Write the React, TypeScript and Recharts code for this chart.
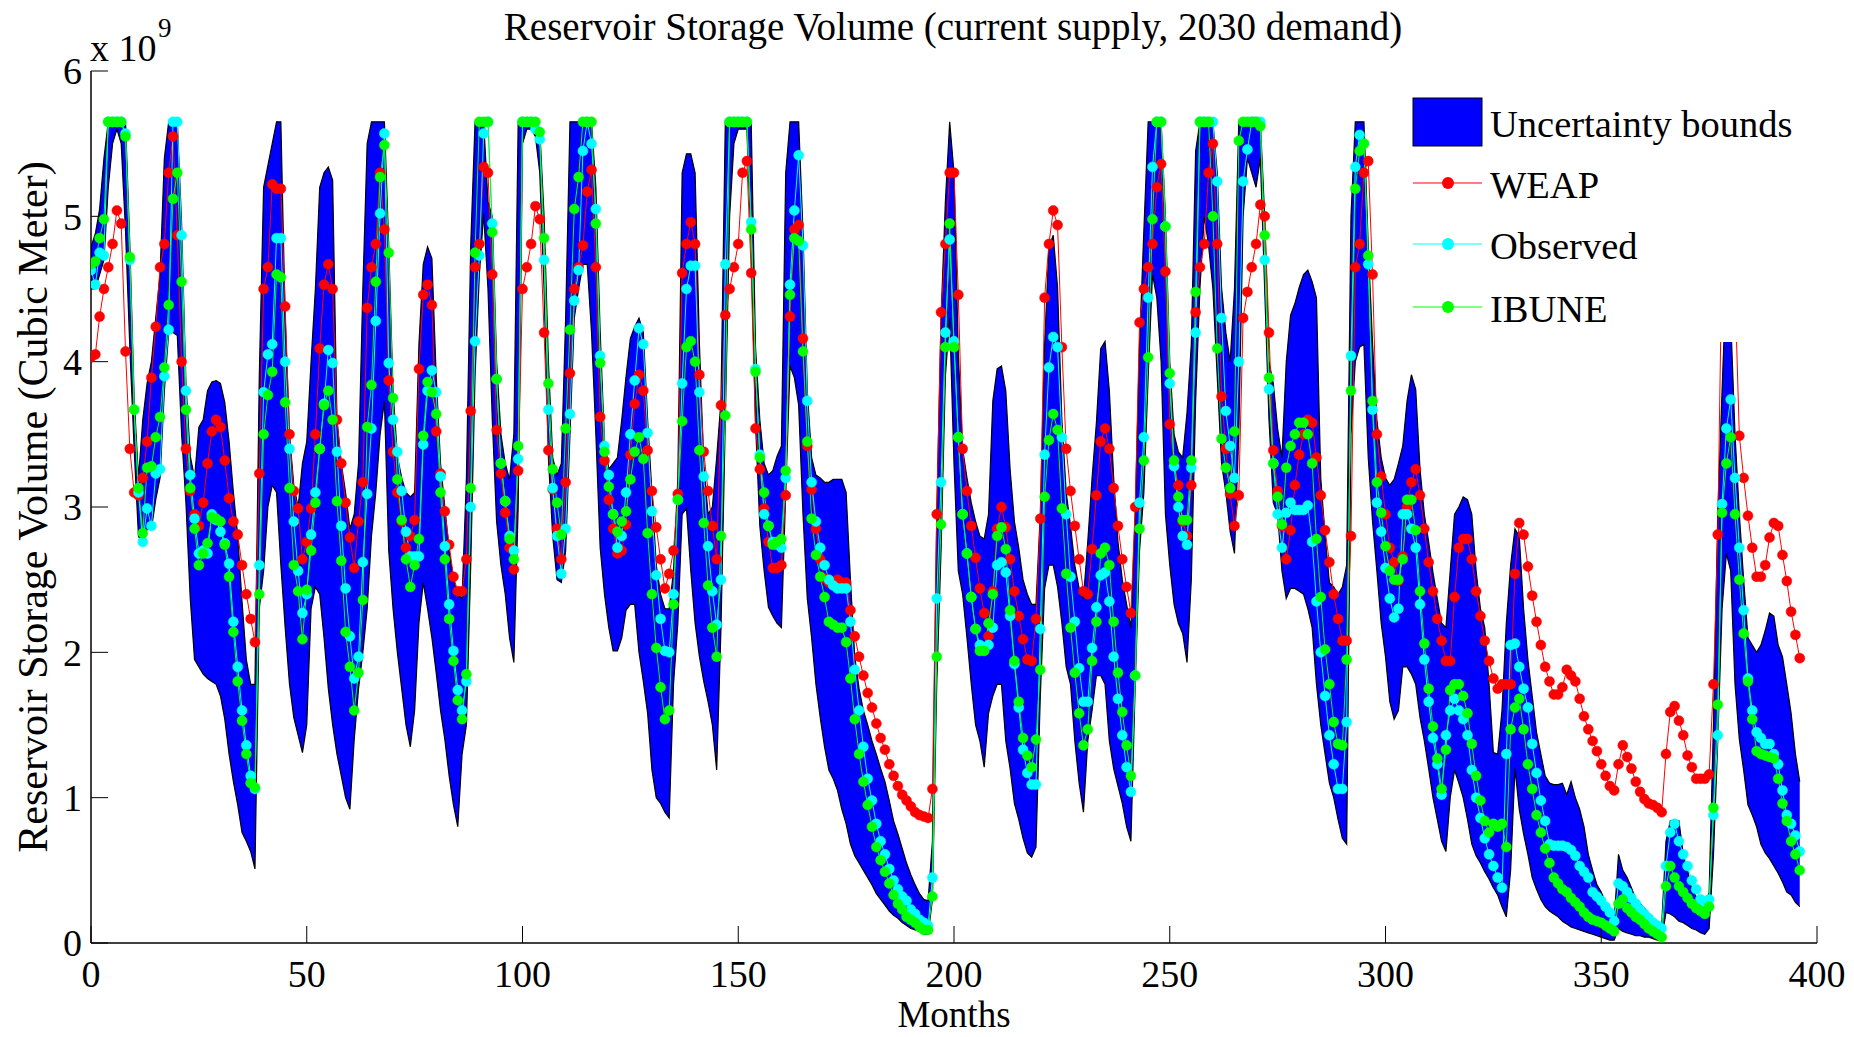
import { ComposedChart, Area, Line, XAxis, YAxis, Legend, Label } from 'recharts'

document.body.style.margin = '0'

const FONT = "'Liberation Serif', 'Times New Roman', serif"

// storage volumes in units of 1e9 m3, one value per month (0..396)
const upperBound = [
  4.79, 4.88, 5.05, 5.4, 5.65, 5.65, 5.65, 5.65, 5.65, 4.8,
  3.75, 3.2, 3.6, 3.85, 4.0, 4.3, 4.6, 5.4, 5.65, 5.65,
  5.65, 4.95, 3.85, 3.35, 3.2, 3.55, 3.6, 3.8, 3.86, 3.87,
  3.85, 3.72, 3.45, 3.1, 2.8, 2.35, 1.95, 1.78, 1.78, 3.9,
  5.2, 5.35, 5.5, 5.65, 5.65, 4.3, 3.5, 3.15, 3.0, 3.3,
  3.45, 4.0, 4.5, 5.2, 5.3, 5.34, 5.25, 3.6, 3.3, 3.1,
  2.85, 2.95, 3.3, 4.5, 5.5, 5.65, 5.65, 5.65, 5.65, 4.8,
  3.8, 3.35, 3.2, 3.1, 3.07, 3.1, 4.12, 4.67, 4.79, 4.71,
  3.9, 3.3, 3.0, 2.7, 2.5, 2.4, 2.37, 3.2, 4.8, 5.65,
  5.65, 5.65, 5.1, 5.0, 4.0, 3.5, 3.3, 3.19, 3.5, 5.65,
  5.65, 5.65, 5.65, 5.65, 5.6, 5.0, 4.0, 3.34, 3.22, 3.3,
  4.3, 5.65, 5.65, 5.65, 5.65, 5.65, 5.65, 5.2, 4.2, 3.45,
  3.26, 3.3, 3.34, 3.6, 3.9, 4.16, 4.24, 4.3, 4.2, 3.6,
  3.1, 2.6, 2.4, 2.3, 2.3, 2.56, 3.2, 5.3, 5.43, 5.43,
  5.3, 4.12, 3.3, 2.95, 3.0, 3.34, 3.73, 5.65, 5.65, 5.65,
  5.65, 5.65, 5.65, 5.65, 4.1, 3.6, 3.3, 3.22, 3.25, 3.35,
  3.42, 5.3, 5.65, 5.65, 5.65, 4.9, 3.8, 3.34, 3.22, 3.2,
  3.17, 3.17, 3.19, 3.19, 3.19, 3.1, 2.5, 1.97, 1.75, 1.6,
  1.5, 1.39, 1.3, 1.2, 1.11, 0.98, 0.84, 0.75, 0.65, 0.55,
  0.47, 0.4, 0.34, 0.3, 0.29, 0.7, 2.95, 4.3, 5.1, 5.65,
  5.3, 4.05, 3.4, 3.2, 3.03, 2.9, 2.8, 2.78, 2.95, 3.73,
  3.95, 3.97, 3.8, 3.26, 2.9, 2.72, 2.5, 2.4, 2.33, 2.33,
  2.95, 4.12, 4.79, 4.87, 4.51, 3.6, 3.1, 2.87, 2.6, 2.44,
  2.37, 2.76, 3.2, 3.58, 4.09, 4.14, 3.8, 3.2, 2.76, 2.5,
  2.33, 2.17, 2.95, 4.12, 4.9, 5.65, 5.65, 5.65, 5.65, 5.0,
  4.0, 3.5, 3.38, 3.34, 3.65, 4.12, 5.45, 5.65, 5.65, 5.65,
  5.65, 5.3, 4.51, 4.2, 4.0, 4.5, 5.65, 5.65, 5.65, 5.65,
  5.65, 5.65, 5.0, 4.0, 3.85, 3.54, 3.34, 4.0, 4.32, 4.4,
  4.51, 4.6, 4.63, 4.55, 4.44, 3.2, 2.8, 2.48, 2.45, 2.4,
  2.45, 2.6, 5.0, 5.65, 5.65, 5.65, 4.8, 4.12, 3.6, 3.34,
  3.2, 3.15, 3.19, 3.3, 3.42, 3.73, 3.91, 3.81, 3.26, 2.95,
  2.76, 2.55, 2.37, 2.2, 2.17, 2.56, 2.95, 3.0, 3.07, 3.05,
  2.95, 2.56, 2.3, 2.17, 1.78, 1.31, 1.3, 1.6, 2.2, 2.6,
  2.85, 2.8, 2.3, 1.95, 1.7, 1.45, 1.3, 1.15, 1.1, 1.09,
  1.09, 1.1, 1.02, 1.11, 1.0, 0.92, 0.8, 0.61, 0.5, 0.4,
  0.35, 0.28, 0.21, 0.16, 0.61, 0.5, 0.45, 0.38, 0.3, 0.27,
  0.24, 0.2, 0.17, 0.14, 0.12, 0.7, 0.84, 0.84, 0.84, 0.61,
  0.5, 0.37, 0.32, 0.28, 0.25, 0.35, 1.5, 2.95, 3.8, 4.6,
  4.3, 3.5, 2.95, 2.5, 2.1, 2.05, 2.0, 2.05, 2.15, 2.27,
  2.25, 2.05, 1.97, 1.78, 1.58, 1.3, 1.11,
]

const lowerBound = [
  4.5, 4.5, 4.6, 4.7, 5.2, 5.5, 5.6, 5.5, 4.9, 4.1,
  3.4, 2.8, 2.74, 2.85, 2.85, 3.05, 3.2, 3.8, 4.2, 4.2,
  4.18, 3.5, 3.03, 2.37, 1.95, 1.9, 1.85, 1.82, 1.8, 1.78,
  1.7, 1.54, 1.3, 1.11, 0.95, 0.76, 0.7, 0.63, 0.51, 2.3,
  2.56, 3.0, 3.15, 3.1, 2.6, 2.17, 1.78, 1.55, 1.43, 1.31,
  1.5, 2.3, 2.45, 2.4, 2.1, 1.75, 1.5, 1.3, 1.15, 1.0,
  0.92, 1.4, 1.75, 2.0, 2.3, 2.8, 3.1, 3.5, 3.73, 2.7,
  2.3, 2.0, 1.75, 1.5, 1.35, 1.6, 2.2, 2.48, 2.3, 2.1,
  1.86, 1.6, 1.4, 1.15, 0.95, 0.8, 1.3, 1.5, 2.6, 3.9,
  4.6, 5.02, 4.5, 3.6, 2.9, 2.6, 2.4, 2.1, 1.93, 3.0,
  5.5, 5.6, 5.6, 5.55, 5.3, 4.5, 3.34, 2.8, 2.5, 2.48,
  2.7, 3.5, 4.3, 4.5, 4.67, 4.67, 4.2, 3.5, 2.72, 2.4,
  2.17, 2.01, 2.01, 2.1, 2.29, 2.33, 2.33, 2.0, 1.8, 1.58,
  1.19, 1.0, 0.96, 0.9, 0.86, 1.78, 2.2, 2.95, 2.99, 2.56,
  2.2, 1.97, 1.8, 1.66, 1.5, 1.19, 2.17, 3.6, 5.0, 5.5,
  5.6, 5.6, 5.6, 4.8, 3.58, 2.87, 2.56, 2.31, 2.25, 2.2,
  2.17, 3.1, 3.97, 3.89, 3.7, 2.95, 2.37, 2.1, 1.78, 1.55,
  1.35, 1.19, 1.13, 1.05, 0.92, 0.82, 0.68, 0.6, 0.55, 0.5,
  0.45, 0.4, 0.34, 0.3, 0.26, 0.22, 0.19, 0.17, 0.14, 0.12,
  0.1, 0.09, 0.08, 0.06, 0.06, 0.3, 1.78, 2.7, 3.9, 4.3,
  3.3, 2.56, 2.4, 2.1, 1.78, 1.5, 1.39, 1.21, 1.58, 1.7,
  1.78, 1.78, 1.39, 1.2, 0.96, 0.85, 0.72, 0.62, 0.59, 0.66,
  1.7, 2.44, 2.6, 2.6, 2.45, 2.2, 1.9, 1.78, 1.39, 1.1,
  0.9, 1.39, 1.6, 1.84, 1.84, 1.78, 1.39, 1.2, 1.08, 0.96,
  0.8, 0.7, 1.78, 2.7, 3.1, 3.9, 4.6, 4.44, 4.0, 2.95,
  2.6, 2.33, 2.2, 2.13, 1.93, 2.5, 3.73, 4.51, 5.0, 4.8,
  4.5, 3.9, 3.3, 3.1, 2.83, 2.68, 3.5, 5.0, 5.4, 5.3,
  5.2, 5.4, 4.5, 3.6, 3.03, 2.95, 2.56, 2.37, 2.44, 2.44,
  2.42, 2.4, 2.3, 2.17, 1.78, 1.5, 1.3, 1.1, 1.0, 0.85,
  0.72, 0.68, 3.5, 4.0, 4.1, 4.12, 3.34, 2.9, 2.56, 2.2,
  1.97, 1.66, 1.54, 1.6, 1.9, 1.9, 1.85, 1.78, 1.55, 1.39,
  1.2, 1.0, 0.85, 0.7, 0.63, 1.0, 1.19, 1.1, 1.0, 0.85,
  0.68, 0.6, 0.55, 0.49, 0.44, 0.38, 0.33, 0.25, 0.18, 0.5,
  1.2, 0.92, 0.75, 0.61, 0.45, 0.37, 0.3, 0.25, 0.22, 0.2,
  0.18, 0.15, 0.13, 0.11, 0.1, 0.09, 0.08, 0.07, 0.06, 0.05,
  0.04, 0.03, 0.02, 0.02, 0.1, 0.08, 0.07, 0.06, 0.05, 0.05,
  0.04, 0.04, 0.03, 0.02, 0.02, 0.21, 0.2, 0.18, 0.15, 0.14,
  0.12, 0.1, 0.09, 0.07, 0.06, 0.1, 0.6, 1.39, 2.3, 2.68,
  2.56, 1.78, 1.4, 1.19, 0.95, 0.88, 0.8, 0.68, 0.62, 0.58,
  0.53, 0.48, 0.42, 0.35, 0.33, 0.28, 0.25,
]

const weap = [
  4.03, 4.05, 4.31, 4.5, 4.65, 4.81, 5.04, 4.95, 4.07, 3.4,
  3.1, 3.08, 3.2, 3.45, 3.89, 4.24, 4.65, 4.81, 5.3, 5.55,
  4.87, 4.0, 3.4, 3.11, 2.95, 2.87, 3.03, 3.3, 3.52, 3.6,
  3.55, 3.32, 3.06, 2.9, 2.81, 2.6, 2.4, 2.23, 2.07, 3.23,
  4.5, 4.65, 5.22, 5.19, 5.19, 4.38, 3.5, 3.11, 2.99, 2.64,
  2.76, 2.99, 3.5, 4.09, 4.53, 4.67, 4.5, 3.6, 3.3, 3.03,
  2.79, 2.58, 2.9, 3.17, 4.37, 4.65, 4.81, 5.3, 4.91, 3.87,
  3.38, 3.1, 2.9, 2.72, 2.8, 2.91, 3.95, 4.46, 4.53, 4.39,
  3.52, 3.23, 2.97, 2.74, 2.52, 2.42, 2.42, 2.64, 3.66, 4.65,
  4.81, 5.34, 5.3, 4.6, 3.53, 3.23, 2.96, 2.72, 2.57, 3.25,
  4.5, 4.65, 4.81, 5.07, 4.98, 4.2, 3.39, 3.12, 2.85, 2.64,
  3.17, 3.92, 4.5, 4.65, 4.8, 5.17, 5.32, 4.65, 3.62, 3.32,
  3.05, 2.85, 2.68, 2.7, 2.88, 3.36, 3.71, 3.91, 3.8, 3.39,
  3.11, 2.86, 2.64, 2.44, 2.54, 2.7, 3.09, 4.61, 4.81, 4.96,
  4.81, 3.91, 3.38, 3.11, 2.87, 2.64, 3.7, 4.32, 4.5, 4.65,
  4.81, 5.3, 5.38, 4.61, 3.54, 3.26, 2.99, 2.76, 2.58, 2.58,
  2.6, 3.08, 4.31, 4.91, 4.94, 4.16, 3.42, 3.12, 2.85, 2.64,
  2.51, 2.48, 2.48, 2.5, 2.48, 2.48, 2.29, 2.11, 1.97, 1.84,
  1.72, 1.62, 1.51, 1.41, 1.33, 1.23, 1.15, 1.08, 1.02, 0.98,
  0.94, 0.9, 0.88, 0.87, 0.86, 1.06, 2.95, 4.34, 4.81, 5.3,
  5.3, 4.46, 3.4, 3.11, 2.87, 2.65, 2.44, 2.27, 2.11, 2.42,
  2.85, 3.0, 2.86, 2.64, 2.42, 2.25, 2.09, 1.95, 1.94, 2.23,
  2.92, 4.44, 4.81, 5.04, 4.94, 4.1, 3.4, 3.11, 2.87, 2.64,
  2.42, 2.4, 2.71, 3.08, 3.45, 3.54, 3.4, 3.13, 2.87, 2.64,
  2.45, 2.27, 3.0, 4.27, 4.5, 4.65, 4.81, 5.2, 5.36, 4.62,
  3.57, 3.3, 3.15, 2.9, 2.8, 3.15, 4.34, 4.65, 4.81, 5.3,
  5.5, 4.81, 3.76, 3.4, 3.09, 2.87, 3.08, 4.3, 4.48, 4.65,
  4.81, 5.08, 5.0, 4.2, 3.39, 3.11, 2.87, 2.64, 2.84, 3.15,
  3.36, 3.5, 3.6, 3.58, 3.34, 3.08, 2.84, 2.62, 2.4, 2.23,
  2.08, 2.08, 2.8, 4.65, 4.81, 5.3, 5.38, 4.6, 3.5, 3.21,
  2.95, 2.72, 2.62, 2.49, 2.66, 3.0, 3.17, 3.26, 3.08, 2.85,
  2.62, 2.42, 2.23, 2.08, 1.94, 1.94, 2.38, 2.72, 2.78, 2.78,
  2.64, 2.42, 2.25, 2.08, 1.94, 1.82, 1.75, 1.78, 1.78, 1.78,
  2.54, 2.89, 2.81, 2.59, 2.39, 2.21, 2.05, 1.9, 1.8, 1.71,
  1.71, 1.76, 1.88, 1.84, 1.8, 1.68, 1.56, 1.47, 1.39, 1.32,
  1.23, 1.15, 1.08, 1.05, 1.23, 1.36, 1.28, 1.2, 1.11, 1.04,
  0.99, 0.96, 0.95, 0.93, 0.9, 1.3, 1.59, 1.63, 1.53, 1.43,
  1.29, 1.21, 1.13, 1.13, 1.13, 1.16, 1.78, 2.81, 4.8, 5.6,
  5.3, 4.5, 3.49, 3.2, 2.94, 2.72, 2.52, 2.52, 2.6, 2.79,
  2.89, 2.87, 2.67, 2.49, 2.28, 2.12, 1.96,
]

const observed = [
  4.63, 4.53, 4.75, 4.73, 5.65, 5.65, 5.65, 5.65, 5.57, 4.7,
  3.67, 3.1, 2.76, 2.99, 2.87, 3.23, 3.26, 3.9, 4.22, 5.65,
  5.65, 4.87, 3.8, 3.22, 2.92, 2.68, 2.7, 2.68, 2.95, 2.91,
  2.83, 2.75, 2.61, 2.21, 1.9, 1.6, 1.36, 1.15, 1.06, 2.6,
  3.79, 4.05, 4.12, 4.85, 4.85, 4.0, 3.4, 2.9, 2.56, 2.27,
  2.4, 2.81, 3.1, 3.4, 3.71, 4.08, 3.99, 3.38, 2.87, 2.44,
  2.11, 1.82, 1.97, 2.62, 3.09, 3.54, 4.28, 5.02, 5.57, 3.99,
  3.6, 3.38, 3.11, 2.83, 2.66, 2.66, 2.66, 3.43, 3.8, 3.94,
  3.79, 3.21, 2.73, 2.33, 2.01, 1.74, 1.6, 1.8, 3.0, 4.14,
  4.73, 5.57, 5.65, 4.95, 3.88, 3.3, 3.04, 2.8, 2.7, 3.33,
  5.65, 5.65, 5.65, 5.6, 5.53, 4.7, 3.67, 3.13, 2.8, 2.54,
  2.85, 3.64, 4.42, 4.63, 5.45, 5.65, 5.5, 5.05, 4.04, 3.42,
  3.22, 2.95, 2.72, 2.8, 3.1, 3.5, 3.87, 4.23, 4.12, 3.51,
  2.97, 2.53, 2.23, 2.01, 2.0, 2.4, 3.05, 3.85, 4.5, 4.66,
  4.66, 3.79, 3.21, 2.73, 2.42, 2.19, 2.5, 4.67, 5.65, 5.65,
  5.65, 5.65, 5.65, 4.96, 3.95, 3.36, 2.95, 2.87, 2.76, 2.74,
  2.72, 3.2, 4.53, 5.04, 5.42, 4.8, 3.73, 3.17, 2.9, 2.72,
  2.6, 2.5, 2.46, 2.44, 2.44, 2.44, 2.21, 1.88, 1.6, 1.35,
  1.13, 0.98, 0.82, 0.7, 0.61, 0.51, 0.43, 0.37, 0.32, 0.29,
  0.23, 0.2, 0.16, 0.14, 0.12, 0.45, 2.37, 3.17, 4.2, 4.84,
  4.14, 3.48, 2.95, 2.68, 2.38, 2.16, 2.05, 2.03, 2.05, 2.17,
  2.6, 2.62, 2.55, 2.25, 1.92, 1.62, 1.33, 1.17, 1.09, 1.09,
  2.16, 3.36, 3.96, 4.17, 4.1, 3.48, 2.95, 2.52, 2.21, 1.89,
  1.66, 1.66, 2.03, 2.31, 2.53, 2.55, 2.35, 1.97, 1.68, 1.43,
  1.21, 1.04, 1.84, 3.03, 3.48, 4.44, 5.34, 5.65, 5.65, 4.93,
  3.85, 3.28, 3.0, 2.8, 2.74, 3.27, 4.2, 5.65, 5.65, 5.65,
  5.65, 5.24, 4.3, 3.66, 3.42, 3.2, 4.0, 5.24, 5.46, 5.65,
  5.65, 5.65, 4.7, 3.81, 3.3, 2.95, 2.72, 2.96, 3.03, 2.98,
  2.98, 2.98, 3.01, 2.76, 2.35, 2.0, 1.7, 1.43, 1.23, 1.06,
  1.06, 1.52, 4.04, 5.34, 5.56, 5.5, 4.67, 3.67, 3.03, 2.83,
  2.58, 2.37, 2.24, 2.3, 2.95, 2.95, 2.85, 2.72, 2.33, 1.95,
  1.66, 1.41, 1.23, 1.02, 1.43, 1.6, 1.68, 1.6, 1.54, 1.43,
  1.19, 1.0, 0.86, 0.72, 0.61, 0.53, 0.45, 0.38, 1.3, 2.05,
  2.06, 1.9, 1.75, 1.62, 1.37, 1.17, 0.98, 0.84, 0.68, 0.67,
  0.67, 0.67, 0.66, 0.64, 0.6, 0.53, 0.49, 0.45, 0.35, 0.32,
  0.29, 0.25, 0.21, 0.15, 0.41, 0.39, 0.35, 0.31, 0.27, 0.23,
  0.2, 0.17, 0.14, 0.12, 0.1, 0.53, 0.76, 0.82, 0.7, 0.61,
  0.53, 0.43, 0.37, 0.3, 0.28, 0.3, 0.88, 1.43, 3.02, 3.54,
  3.74, 3.2, 2.72, 2.29, 1.82, 1.6, 1.45, 1.41, 1.37, 1.37,
  1.3, 1.23, 1.05, 0.88, 0.82, 0.74, 0.63,
]

const ibune = [
  4.67, 4.69, 4.85, 4.98, 5.65, 5.65, 5.65, 5.65, 5.55, 4.72,
  3.67, 3.13, 2.82, 3.27, 3.28, 3.48, 3.62, 3.96, 4.39, 5.12,
  5.3, 4.55, 3.67, 3.13, 2.85, 2.6, 2.68, 2.75, 2.93, 2.92,
  2.9, 2.74, 2.52, 2.14, 1.8, 1.53, 1.3, 1.1, 1.07, 2.4,
  3.5, 3.77, 3.93, 4.6, 4.58, 3.72, 3.13, 2.6, 2.42, 2.09,
  2.43, 2.7, 3.03, 3.4, 3.7, 3.8, 3.6, 3.04, 2.63, 2.14,
  1.9, 1.6, 1.86, 2.36, 3.55, 3.84, 4.55, 5.27, 5.49, 4.75,
  3.75, 3.19, 2.91, 2.64, 2.45, 2.6, 2.78, 3.49, 3.86, 3.79,
  3.64, 3.1, 2.64, 2.23, 1.94, 1.67, 1.54, 1.85, 3.13, 4.75,
  5.65, 5.65, 5.65, 4.89, 3.88, 3.3, 3.04, 2.78, 2.64, 3.42,
  5.65, 5.65, 5.65, 5.65, 5.58, 4.85, 3.85, 3.26, 3.03, 2.81,
  3.54, 4.22, 5.05, 5.27, 5.65, 5.65, 5.65, 4.95, 3.99, 3.38,
  3.14, 2.95, 2.83, 2.9, 2.97, 3.19, 3.38, 3.48, 3.33, 2.82,
  2.4, 2.03, 1.76, 1.54, 1.6, 2.33, 3.05, 3.59, 4.1, 4.14,
  4.0, 3.39, 2.89, 2.46, 2.17, 1.97, 2.8, 3.63, 5.65, 5.65,
  5.65, 5.65, 5.65, 4.91, 3.93, 3.34, 3.1, 2.87, 2.74, 2.76,
  2.78, 3.25, 4.46, 4.85, 4.83, 4.07, 3.45, 2.92, 2.67, 2.52,
  2.38, 2.21, 2.19, 2.17, 2.17, 2.07, 1.82, 1.54, 1.3, 1.11,
  0.95, 0.8, 0.66, 0.57, 0.49, 0.41, 0.33, 0.27, 0.23, 0.18,
  0.16, 0.14, 0.11, 0.09, 0.09, 0.32, 1.97, 2.88, 4.1, 4.95,
  4.1, 3.48, 2.95, 2.68, 2.38, 2.16, 2.01, 2.01, 2.2, 2.4,
  2.8, 2.86, 2.71, 2.29, 1.94, 1.66, 1.41, 1.29, 1.21, 1.4,
  1.88, 3.07, 3.46, 3.64, 3.53, 2.99, 2.54, 2.17, 1.86, 1.58,
  1.36, 1.47, 1.94, 2.21, 2.68, 2.72, 2.6, 2.21, 1.86, 1.59,
  1.36, 1.15, 1.84, 2.85, 3.32, 4.03, 4.98, 5.65, 5.65, 4.93,
  3.92, 3.32, 3.07, 2.91, 2.91, 3.32, 4.48, 5.65, 5.65, 5.65,
  5.0, 4.09, 3.47, 3.27, 3.13, 3.52, 5.52, 5.65, 5.65, 5.65,
  5.65, 5.62, 4.87, 3.89, 3.3, 3.07, 2.88, 3.27, 3.42, 3.5,
  3.58, 3.58, 3.5, 3.3, 2.78, 2.38, 2.02, 1.78, 1.52, 1.37,
  1.36, 1.95, 3.8, 5.19, 5.45, 5.5, 4.73, 3.73, 3.17, 2.96,
  2.73, 2.56, 2.5, 2.5, 2.64, 3.05, 3.05, 2.84, 2.42, 2.06,
  1.75, 1.49, 1.27, 1.06, 1.33, 1.74, 1.78, 1.78, 1.7, 1.58,
  1.37, 1.15, 0.98, 0.84, 0.76, 0.82, 0.8, 0.82, 0.66, 1.47,
  1.62, 1.68, 1.47, 1.23, 1.06, 0.88, 0.76, 0.65, 0.55, 0.45,
  0.41, 0.37, 0.35, 0.31, 0.28, 0.25, 0.21, 0.18, 0.16, 0.15,
  0.14, 0.12, 0.1, 0.08, 0.27, 0.3, 0.24, 0.21, 0.18, 0.16,
  0.13, 0.1, 0.08, 0.06, 0.04, 0.39, 0.53, 0.45, 0.39, 0.35,
  0.31, 0.27, 0.24, 0.22, 0.2, 0.25, 0.93, 1.64, 2.96, 3.3,
  3.48, 2.95, 2.5, 2.13, 1.8, 1.54, 1.32, 1.3, 1.29, 1.28,
  1.27, 1.13, 0.96, 0.84, 0.7, 0.61, 0.5,
]

const xTicks = [0, 50, 100, 150, 200, 250, 300, 350, 400]
const yTicks = [0, 1, 2, 3, 4, 5, 6]

const data = observed.map((v, i) => ({
  month: i,
  band: [lowerBound[i], upperBound[i]],
  weap: weap[i],
  observed: v,
  ibune: ibune[i],
}))

const tickStyle = { fill: '#000', fontSize: 38, fontFamily: FONT }

const renderLegend = () => (
  <svg width={403} height={264} style={{ display: 'block', fontFamily: FONT }}>
    <rect x={18} y={20} width={69} height={48} fill="#0000ff" stroke="#000" strokeWidth={1} />
    <text x={95} y={59} fontSize={38.5} fill="#000">Uncertainty bounds</text>
    {[
      { name: 'WEAP', color: '#ff0000', y: 105 },
      { name: 'Observed', color: '#00ffff', y: 166 },
      { name: 'IBUNE', color: '#00ff00', y: 229 },
    ].map((item) => (
      <g key={item.name}>
        <line x1={18} x2={87} y1={item.y} y2={item.y} stroke={item.color} strokeWidth={1} />
        <circle cx={53} cy={item.y} r={6} fill={item.color} />
        <text x={95} y={item.y + 15} fontSize={38.5} fill="#000">{item.name}</text>
      </g>
    ))}
  </svg>
)

export default function App() {
  return (
    <div style={{ position: 'relative', width: 1854, height: 1037, overflow: 'hidden', background: '#fff' }}>
      <ComposedChart
        width={1854}
        height={1037}
        data={data}
        margin={{ top: 71, right: 37, bottom: 0, left: 0 }}
      >
        <XAxis
          dataKey="month"
          type="number"
          domain={[0, 400]}
          ticks={xTicks}
          interval={0}
          allowDataOverflow
          height={94}
          tickSize={-17}
          tickMargin={34}
          axisLine={{ stroke: '#000', strokeWidth: 1.5 }}
          tickLine={{ stroke: '#000' }}
          tick={tickStyle}
        >
          <Label value="Months" position="insideBottom" offset={10} style={{ fill: '#000', fontSize: 37, fontFamily: FONT }} />
        </XAxis>
        <XAxis
          xAxisId="top"
          orientation="top"
          dataKey="month"
          type="number"
          domain={[0, 400]}
          ticks={xTicks}
          interval={0}
          allowDataOverflow
          height={0}
          tickSize={-17}
          axisLine={{ stroke: '#000', strokeWidth: 1.5 }}
          tickLine={{ stroke: '#000' }}
          tick={false}
        />
        <YAxis
          type="number"
          domain={[0, 6]}
          ticks={yTicks}
          interval={0}
          allowDataOverflow
          width={91}
          tickSize={-17}
          tickMargin={26}
          axisLine={{ stroke: '#000', strokeWidth: 1.5 }}
          tickLine={{ stroke: '#000' }}
          tick={tickStyle}
          label={{
            value: 'Reservoir Storage Volume (Cubic Meter)',
            angle: -90,
            position: 'insideLeft',
            offset: 32,
            style: { textAnchor: 'middle', fill: '#000', fontSize: 42, fontFamily: FONT },
          }}
        />
        <YAxis
          yAxisId="right"
          orientation="right"
          type="number"
          domain={[0, 6]}
          ticks={yTicks}
          interval={0}
          allowDataOverflow
          width={0}
          tickSize={-17}
          axisLine={{ stroke: '#000', strokeWidth: 1.5 }}
          tickLine={{ stroke: '#000' }}
          tick={false}
        />
        <Area
          dataKey="band"
          name="Uncertainty bounds"
          type="linear"
          fill="#0000ff"
          fillOpacity={1}
          stroke="#000"
          strokeWidth={1.2}
          isAnimationActive={false}
          activeDot={false}
        />
        <Line
          dataKey="weap"
          name="WEAP"
          type="linear"
          stroke="#ff0000"
          strokeWidth={1}
          dot={{ r: 5, fill: '#ff0000', stroke: '#ff0000', strokeWidth: 0.5 }}
          activeDot={false}
          isAnimationActive={false}
        />
        <Line
          dataKey="observed"
          name="Observed"
          type="linear"
          stroke="#00ffff"
          strokeWidth={1}
          dot={{ r: 5, fill: '#00ffff', stroke: '#00ffff', strokeWidth: 0.5 }}
          activeDot={false}
          isAnimationActive={false}
        />
        <Line
          dataKey="ibune"
          name="IBUNE"
          type="linear"
          stroke="#00ff00"
          strokeWidth={1}
          dot={{ r: 5, fill: '#00ff00', stroke: '#00ff00', strokeWidth: 0.5 }}
          activeDot={false}
          isAnimationActive={false}
        />
        <Legend
          layout="vertical"
          align="center"
          verticalAlign="middle"
          content={renderLegend}
          wrapperStyle={{ left: 1395, top: 78, width: 403, height: 264, backgroundColor: '#fff' }}
        />
      </ComposedChart>
      <svg
        width={1854}
        height={70}
        style={{ position: 'absolute', left: 0, top: 0, pointerEvents: 'none', fontFamily: FONT }}
      >
        <text x={953} y={40} textAnchor="middle" fontSize={39} fill="#000">
          Reservoir Storage Volume (current supply, 2030 demand)
        </text>
        <text x={90} y={61} fontSize={38} fill="#000">x 10</text>
        <text x={158} y={37} fontSize={27} fill="#000">9</text>
      </svg>
    </div>
  )
}
